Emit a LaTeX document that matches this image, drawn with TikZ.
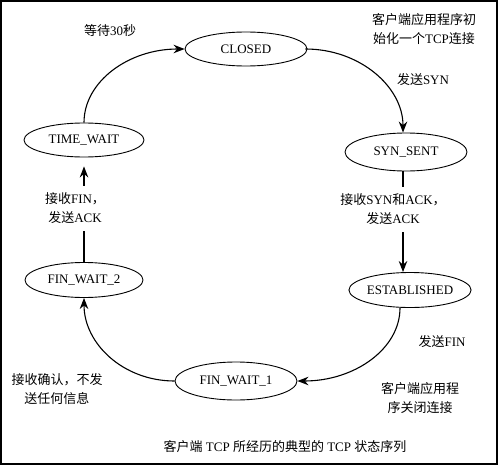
\documentclass[tikz,border=0pt]{standalone}
\usepackage{fontspec}
\setmainfont{Liberation Serif}
\newfontfamily\cjk{Noto Sans CJK SC}
\newcommand{\zh}[1]{{\cjk #1}}
\usetikzlibrary{shapes.geometric,arrows.meta}
\begin{document}
\begin{tikzpicture}[x=1pt,y=1pt,
  every node/.style={font=\fontsize{13}{19}\selectfont},
  state/.style={ellipse,draw,line width=0.9pt,inner sep=0pt},
  lbl/.style={align=center,inner sep=1pt},
  gaplbl/.style={align=center,fill=white,inner xsep=1pt,inner ysep=7pt},
  conn/.style={line width=1.1pt,-{Stealth[length=11pt,width=8.5pt]}}]
\useasboundingbox (0,0) rectangle (500,467);
\draw[line width=1.6pt] (1,3) rectangle (497,466);
% states
\node[state,minimum width=122pt,minimum height=34pt] (closed) at (246,418) {CLOSED};
\node[state,minimum width=122pt,minimum height=38pt] (ss) at (406,315) {SYN\_SENT};
\node[state,minimum width=116pt,minimum height=35pt] (est) at (410,177) {ESTABLISHED};
\node[state,minimum width=120pt,minimum height=34pt] (tw) at (84,327) {TIME\_WAIT};
\node[state,minimum width=118pt,minimum height=35pt] (fw2) at (84,187) {FIN\_WAIT\_2};
\node[state,minimum width=122pt,minimum height=38pt] (fw1) at (236,86) {FIN\_WAIT\_1};
% connectors
\draw[conn] (tw.north) to[out=90,in=180,out distance=41pt,in distance=56pt] (closed.west);
\draw[conn] ([xshift=-2pt]closed.east) to[out=0,in=90,out distance=54pt,in distance=46pt] ([xshift=-3pt]ss.north);
\draw[conn] ([xshift=-10pt]est.south) to[out=-90,in=0,out distance=41pt,in distance=57pt] (fw1.east);
\draw[conn] (fw1.west) to[out=180,in=-90,out distance=51pt,in distance=46pt] (fw2.south);
\draw[conn] ([xshift=-3pt]ss.south) -- ([xshift=-3pt]ss.south |- est.north);
\draw[conn,shorten >=9pt] (fw2.north) -- (tw.south);
% labels
\node[gaplbl] (lsyn) at (393,258) {\zh{接收}SYN\zh{和}ACK\zh{，}\\\zh{发送}ACK};
\node[gaplbl] (lfin) at (75,259) {\zh{接收}FIN\zh{，}\\\zh{发送}ACK};
\node[lbl] (lwait) at (110,436) {\zh{等待}30\zh{秒}};
\node[lbl] (lopen) at (424,438) {\zh{客户端应用程序初}\\\zh{始化一个}TCP\zh{连接}};
\node[lbl] (lsend) at (423,387) {\zh{发送}SYN};
\node[lbl] (lsfin) at (442,125) {\zh{发送}FIN};
\node[lbl] (lack) at (57,78) {\zh{接收确认，不发}\\\zh{送任何信息}};
\node[lbl] (lclose) at (420,69) {\zh{客户端应用程}\\\zh{序关闭连接}};
\node[lbl] (cap) at (285,20) {\zh{客户端} TCP \zh{所经历的典型的} TCP \zh{状态序列}};
\end{tikzpicture}
\end{document}
